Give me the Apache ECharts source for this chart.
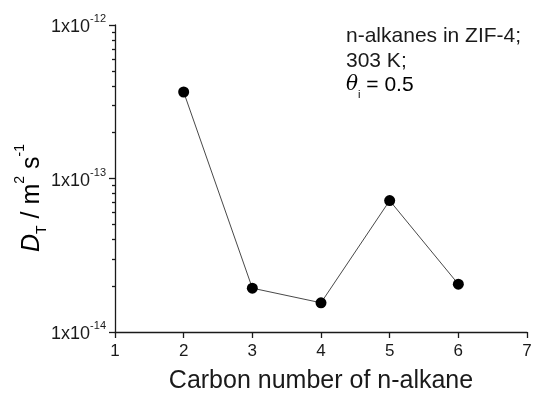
<!DOCTYPE html>
<html>
<head>
<meta charset="utf-8">
<script src="https://cdn.jsdelivr.net/npm/echarts@6/dist/echarts.min.js"></script>
<style>
  html, body { margin: 0; padding: 0; background: #ffffff; }
  #chart { width: 533px; height: 394px; }
</style>
</head>
<body>
<div id="chart"></div>
<script>
// Transport diffusivity of n-alkanes in ZIF-4 versus carbon number
const carbonNumbers = [2, 3, 4, 5, 6];
const diffusivity = [3.66e-13, 1.93e-14, 1.55e-14, 7.18e-14, 2.05e-14];

// Axis ranges and tick settings
const xRange = [1, 7];
const xInterval = 1;
const yDecades = [1e-14, 1e-13, 1e-12];
const minorMultipliers = [2, 3, 4, 5, 6, 7, 8, 9];

// Annotation lines
const noteLines = ['n-alkanes in ZIF-4;', '303 K;'];
const coverageValue = '0.5';

const FONT = '"Liberation Sans", Arial, sans-serif';
const INK = '#1a1a1a';

// Minor tick positions inside each decade (2..9 x 10^n)
const minorTickValues = [];
for (let i = 0; i < yDecades.length - 1; i++) {
  for (const m of minorMultipliers) minorTickValues.push(m * yDecades[i]);
}

const chart = echarts.init(document.getElementById('chart'), null, { renderer: 'canvas' });

const axisLineStyle = { color: INK, width: 1.3 };

const option = {
  backgroundColor: '#ffffff',
  animation: false,
  grid: { left: 115, right: 6, top: 25, bottom: 62, containLabel: false, outerBoundsMode: 'none' },
  xAxis: {
    type: 'value',
    min: xRange[0],
    max: xRange[1],
    interval: xInterval,
    name: 'Carbon number of n-alkane',
    nameLocation: 'middle',
    nameGap: 37,
    nameTextStyle: { fontFamily: FONT, fontSize: 25, color: INK },
    axisLine: { show: true, onZero: false, lineStyle: axisLineStyle },
    axisTick: { show: true, inside: false, length: 6, lineStyle: axisLineStyle },
    axisLabel: { fontFamily: FONT, fontSize: 17, color: INK, margin: 11 },
    splitLine: { show: false }
  },
  yAxis: [
    {
      type: 'log',
      logBase: 10,
      min: yDecades[0],
      max: yDecades[yDecades.length - 1],
      axisLine: { show: true, onZero: false, lineStyle: axisLineStyle },
      axisTick: { show: true, inside: false, length: 6, lineStyle: axisLineStyle },
      axisLabel: {
        margin: 9,
        formatter: function (v) {
          const e = Math.round(Math.log10(v));
          return '{b|1x10}{s|' + e + '}';
        },
        rich: {
          b: { fontFamily: FONT, fontSize: 18, color: INK, padding: [5, 0, 0, 0], verticalAlign: 'bottom' },
          s: { fontFamily: FONT, fontSize: 11, color: INK, verticalAlign: 'top' }
        }
      },
      splitLine: { show: false }
    },
    {
      type: 'log',
      logBase: 10,
      position: 'left',
      min: yDecades[0],
      max: yDecades[yDecades.length - 1],
      axisLine: { show: false },
      axisTick: { show: true, inside: false, length: 3, customValues: minorTickValues, lineStyle: axisLineStyle },
      axisLabel: { show: false },
      splitLine: { show: false }
    }
  ],
  series: [
    {
      type: 'line',
      yAxisIndex: 0,
      data: carbonNumbers.map((c, i) => [c, diffusivity[i]]),
      symbol: 'circle',
      symbolSize: 11,
      itemStyle: { color: '#000000' },
      lineStyle: { color: '#333333', width: 0.9 },
      z: 3
    }
  ],
  graphic: [
    {
      type: 'text',
      x: 31,
      y: 198,
      rotation: Math.PI / 2,
      style: {
        text: '{d|D}{sub|T}{n| / m}{sup|2}{n| s}{sup|-1}',
        align: 'center',
        verticalAlign: 'middle',
        rich: {
          d: { fontFamily: FONT, fontSize: 25, fontStyle: 'italic', color: INK, padding: [7, 0, 4, 0], verticalAlign: 'middle' },
          n: { fontFamily: FONT, fontSize: 25, color: INK, padding: [7, 0, 4, 0], verticalAlign: 'middle' },
          sub: { fontFamily: FONT, fontSize: 14, color: INK, verticalAlign: 'bottom' },
          sup: { fontFamily: FONT, fontSize: 14, color: INK, verticalAlign: 'top' }
        }
      }
    },
    {
      type: 'text',
      x: 346,
      y: 26,
      style: { text: noteLines[0], fontFamily: FONT, fontSize: 21, fill: INK, verticalAlign: 'top' }
    },
    {
      type: 'text',
      x: 346,
      y: 51,
      style: { text: noteLines[1], fontFamily: FONT, fontSize: 21, fill: INK, verticalAlign: 'top' }
    },
    {
      type: 'text',
      x: 346,
      y: 75,
      style: {
        text: '{t|θ}{i|i}{n| = ' + coverageValue + '}',
        verticalAlign: 'top',
        rich: {
          t: { fontFamily: '"DejaVu Serif", serif', fontSize: 20, fontStyle: 'italic', color: '#555555', padding: [0, 0, 4, 0], verticalAlign: 'top' },
          i: { fontFamily: FONT, fontSize: 11, color: INK, verticalAlign: 'bottom' },
          n: { fontFamily: FONT, fontSize: 21, color: INK, padding: [0, 0, 4, 0], verticalAlign: 'top' }
        }
      }
    }
  ]
};

chart.setOption(option);
</script>
</body>
</html>
